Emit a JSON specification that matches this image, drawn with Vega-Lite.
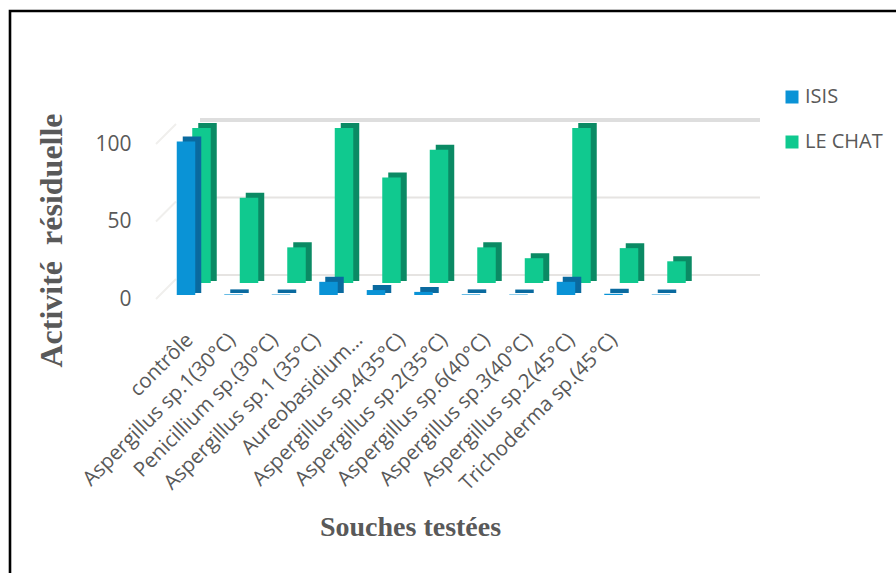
{
  "$schema": "https://vega.github.io/schema/vega-lite/v6.json",
  "autosize": {"type": "none"},
  "padding": {"left": 10, "top": 11, "right": 0, "bottom": 0},
  "width": 890,
  "height": 566,
  "background": "white",
  "view": {"stroke": "black", "strokeWidth": 2.6, "fill": "white"},
  "datasets": {
    "activite": [
      {"souche": "contrôle", "serie": "ISIS", "valeur": 99},
      {"souche": "Aspergillus sp.1(30°C)", "serie": "ISIS", "valeur": 0.4},
      {"souche": "Penicillium sp.(30°C)", "serie": "ISIS", "valeur": 0.3},
      {"souche": "Aspergillus sp.1 (35°C)", "serie": "ISIS", "valeur": 8.5},
      {"souche": "Aureobasidium…", "serie": "ISIS", "valeur": 3.2},
      {"souche": "Aspergillus sp.4(35°C)", "serie": "ISIS", "valeur": 2},
      {"souche": "Aspergillus sp.2(35°C)", "serie": "ISIS", "valeur": 0.4},
      {"souche": "Aspergillus sp.6(40°C)", "serie": "ISIS", "valeur": 0.3},
      {"souche": "Aspergillus sp.3(40°C)", "serie": "ISIS", "valeur": 8.5},
      {"souche": "Aspergillus sp.2(45°C)", "serie": "ISIS", "valeur": 0.8},
      {"souche": "Trichoderma sp.(45°C)", "serie": "ISIS", "valeur": 0.3},
      {"souche": "contrôle", "serie": "LE CHAT", "valeur": 100},
      {"souche": "Aspergillus sp.1(30°C)", "serie": "LE CHAT", "valeur": 55},
      {"souche": "Penicillium sp.(30°C)", "serie": "LE CHAT", "valeur": 23},
      {"souche": "Aspergillus sp.1 (35°C)", "serie": "LE CHAT", "valeur": 100},
      {"souche": "Aureobasidium…", "serie": "LE CHAT", "valeur": 68},
      {"souche": "Aspergillus sp.4(35°C)", "serie": "LE CHAT", "valeur": 86},
      {"souche": "Aspergillus sp.2(35°C)", "serie": "LE CHAT", "valeur": 23},
      {"souche": "Aspergillus sp.6(40°C)", "serie": "LE CHAT", "valeur": 16},
      {"souche": "Aspergillus sp.3(40°C)", "serie": "LE CHAT", "valeur": 100},
      {"souche": "Aspergillus sp.2(45°C)", "serie": "LE CHAT", "valeur": 22.5},
      {"souche": "Trichoderma sp.(45°C)", "serie": "LE CHAT", "valeur": 14}
    ],
    "paroi": [{"v": 0}, {"v": 50}, {"v": 100}]
  },
  "resolve": {"scale": {"x": "independent"}, "axis": {"x": "independent"}},
  "layer": [
    {
      "encoding": {
        "x": {
          "field": "souche",
          "type": "nominal",
          "sort": null,
          "scale": {
            "type": "point",
            "padding": 0,
            "range": [176, 651],
            "domain": ["contrôle", "Aspergillus sp.1(30°C)", "Penicillium sp.(30°C)", "Aspergillus sp.1 (35°C)", "Aureobasidium…", "Aspergillus sp.4(35°C)", "Aspergillus sp.2(35°C)", "Aspergillus sp.6(40°C)", "Aspergillus sp.3(40°C)", "Aspergillus sp.2(45°C)", "Trichoderma sp.(45°C)"]
          },
          "axis": null
        }
      },
      "layer": [
        {
          "data": {"name": "paroi"},
          "transform": [{"filter": "datum.v < 100"}],
          "mark": {"type": "rule", "color": "#e6e4e2", "strokeWidth": 2, "xOffset": 14, "x2Offset": 99, "yOffset": -20},
          "encoding": {
            "x": {"datum": "contrôle"},
            "x2": {"datum": "Trichoderma sp.(45°C)"},
            "y": {"field": "v", "type": "quantitative"}
          }
        },
        {
          "data": {"name": "paroi"},
          "transform": [{"filter": "datum.v == 100"}],
          "mark": {"type": "rule", "color": "#dedede", "strokeWidth": 4, "xOffset": 14, "x2Offset": 99, "yOffset": -20},
          "encoding": {
            "x": {"datum": "contrôle"},
            "x2": {"datum": "Trichoderma sp.(45°C)"},
            "y": {"field": "v", "type": "quantitative"}
          }
        },
        {
          "data": {"name": "paroi"},
          "mark": {"type": "rule", "color": "#f0efed", "strokeWidth": 2, "xOffset": -30, "x2Offset": -10, "yOffset": 4, "y2Offset": -16},
          "encoding": {
            "x": {"datum": "contrôle"},
            "x2": {"datum": "contrôle"},
            "y": {"field": "v", "type": "quantitative"},
            "y2": {"field": "v"}
          }
        },
        {
          "data": {"name": "activite"},
          "transform": [{"filter": "datum.serie == 'LE CHAT'"}],
          "mark": {"type": "bar", "size": 15.5, "color": "#0b8a64", "stroke": "#0b8a64", "strokeWidth": 3, "xOffset": 21.5, "yOffset": -15.5, "y2Offset": -15.5},
          "encoding": {
            "y": {"field": "valeur", "type": "quantitative"},
            "detail": {"field": "serie"}
          }
        },
        {
          "data": {"name": "activite"},
          "transform": [{"filter": "datum.serie == 'LE CHAT'"}],
          "mark": {"type": "bar", "size": 18.5, "xOffset": 15.5, "yOffset": -12, "y2Offset": -12},
          "encoding": {
            "y": {"field": "valeur", "type": "quantitative"},
            "color": {"field": "serie", "type": "nominal"}
          }
        },
        {
          "data": {"name": "activite"},
          "transform": [{"filter": "datum.serie == 'ISIS'"}],
          "mark": {"type": "bar", "size": 15.5, "color": "#0a6a9f", "stroke": "#0a6a9f", "strokeWidth": 3, "xOffset": 6, "yOffset": -3.5, "y2Offset": -3.5},
          "encoding": {
            "y": {"field": "valeur", "type": "quantitative"},
            "detail": {"field": "serie"}
          }
        },
        {
          "data": {"name": "activite"},
          "transform": [{"filter": "datum.serie == 'ISIS'"}],
          "mark": {"type": "bar", "size": 18.5},
          "encoding": {
            "y": {
              "field": "valeur",
              "type": "quantitative",
              "scale": {"domain": [0, 100], "range": [284, 129], "nice": false, "zero": true},
              "axis": {
                "values": [0, 50, 100],
                "offset": -121,
                "domain": false,
                "ticks": false,
                "grid": false,
                "labelPadding": 0,
                "labelOffset": 4,
                "labelFont": "Open Sans",
                "labelFontSize": 21,
                "labelColor": "#595959",
                "title": "Activité \u00a0résiduelle",
                "titleFont": "Liberation Serif",
                "titleFontSize": 32,
                "titleFontWeight": "bold",
                "titleColor": "#595959",
                "titleAngle": -90,
                "titleAlign": "center",
                "titleBaseline": "alphabetic",
                "titleX": -70,
                "titleY": 229
              }
            },
            "color": {
              "field": "serie",
              "type": "nominal",
              "scale": {"domain": ["ISIS", "LE CHAT"], "range": ["#0a93d6", "#10c98f"]},
              "legend": {
                "orient": "none",
                "legendX": 772,
                "legendY": 76,
                "title": null,
                "symbolType": "square",
                "symbolSize": 169,
                "symbolStrokeWidth": 0,
                "labelFont": "Open Sans",
                "labelFontSize": 20,
                "labelColor": "#595959",
                "labelOffset": 3,
                "rowPadding": 25
              }
            }
          }
        }
      ]
    },
    {
      "data": {"name": "activite"},
      "transform": [{"filter": "datum.serie == 'ISIS'"}],
      "mark": {"type": "text", "angle": -45, "align": "right", "baseline": "middle", "font": "Open Sans", "fontSize": 20.5, "color": "#595959", "yOffset": 42},
      "encoding": {
        "x": {
          "field": "souche",
          "type": "nominal",
          "sort": null,
          "scale": {"type": "point", "padding": 0, "range": [180, 604]},
          "axis": {
            "labels": false,
            "ticks": false,
            "domain": false,
            "grid": false,
            "title": "Souches testées",
            "titleFont": "Liberation Serif",
            "titleFontSize": 28,
            "titleFontWeight": "bold",
            "titleColor": "#595959",
            "titleAlign": "center",
            "titleBaseline": "alphabetic",
            "titleX": 400,
            "titleY": -42
          }
        },
        "y": {"datum": 0, "type": "quantitative"},
        "text": {"field": "souche"}
      }
    }
  ]
}
